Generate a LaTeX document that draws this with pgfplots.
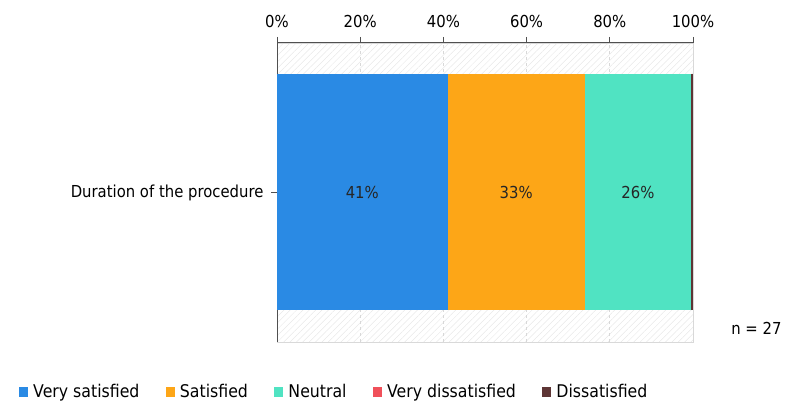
\documentclass[border=0pt]{standalone}
\usepackage{pgfplots}
\pgfplotsset{compat=1.18}
\usepackage{fontspec}
\setmainfont{DejaVu Sans}[FakeStretch=0.9]
\usetikzlibrary{patterns.meta}

\definecolor{cVerySat}{HTML}{2A8AE4}
\definecolor{cSat}{HTML}{FDA617}
\definecolor{cNeutral}{HTML}{50E3C2}
\definecolor{cVeryDis}{HTML}{F0505A}
\definecolor{cDis}{HTML}{5E3535}
\definecolor{axisgray}{HTML}{505050}
\definecolor{gridgray}{HTML}{D8D8D8}

\newcommand{\chartfont}{\fontsize{16.5}{19}\selectfont}
\newcommand{\legendfont}{\fontsize{17.5}{20}\selectfont}

\pgfplotsset{
  surveybar/.style={
    scale only axis,
    width=416pt, height=299pt,
    at={(277pt,61pt)}, anchor=south west,
    xmin=0, xmax=100,
    ymin=-1, ymax=1,
    /pgf/number format/assume math mode=true,
  },
}

\begin{document}
\begin{tikzpicture}
\useasboundingbox (0,0) rectangle (789pt,403pt);

\begin{axis}[
  surveybar,
  xbar stacked,
  bar width=236pt,
  axis x line*=top,
  axis y line*=left,
  axis line style={axisgray, line width=1pt},
  axis background/.style={
    pattern={Lines[angle=45,distance=4.5pt,line width=0.5pt]},
    pattern color=gray!18,
    draw=gray!30,
  },
  xtick={0,20,40,60,80,100},
  xticklabels={0\%,20\%,40\%,60\%,80\%,100\%},
  xticklabel pos=top,
  ytick={0},
  yticklabels={Duration of the procedure},
  tick align=outside,
  major tick length=6pt,
  tick style={axisgray, line width=1pt},
  xmajorgrids,
  grid style={gridgray, dashed, line width=0.8pt},
  ticklabel style={font=\chartfont, text=black},
  xticklabel style={yshift=6pt},
  yticklabel style={xshift=-4pt},
  legend columns=5,
  legend style={
    at={(-0.6274,-0.1672)}, anchor=west,
    draw=none, fill=none,
    font=\legendfont,
    /tikz/every even column/.append style={column sep=24.5pt},
    /tikz/every odd column/.append style={column sep=3pt},
    nodes={inner sep=2pt},
  },
  legend image code/.code={
    \fill[#1, draw=none] (0pt,-5pt) rectangle (9pt,5pt);
  },
]
\addplot[fill=cVerySat, draw=none] coordinates {(41,0)};
\addlegendentry{Very satisfied}
\addplot[fill=cSat, draw=none] coordinates {(33,0)};
\addlegendentry{Satisfied}
\addplot[fill=cNeutral, draw=none] coordinates {(25.5,0)};
\addlegendentry{Neutral}
\addplot[fill=cVeryDis, draw=none] coordinates {(0,0)};
\addlegendentry{Very dissatisfied}
\addplot[fill=cDis, draw=none] coordinates {(0.5,0)};
\addlegendentry{Dissatisfied}
\end{axis}

% share labels centred on each segment
\begin{axis}[
  surveybar,
  hide axis,
]
\addplot[only marks, mark=none,
  nodes near coords={\pgfmathprintnumber[precision=0]{\pgfplotspointmeta}\%},
  nodes near coords align=center,
  every node near coord/.append style={font=\chartfont, text=black!85},
  point meta=explicit,
] table[meta=v] {
x      y  v
20.5   0  41
57.5   0  33
86.75  0  26
};
\end{axis}

\node[anchor=east, font=\chartfont] at (785pt,75pt) {n = 27};
\end{tikzpicture}
\end{document}
